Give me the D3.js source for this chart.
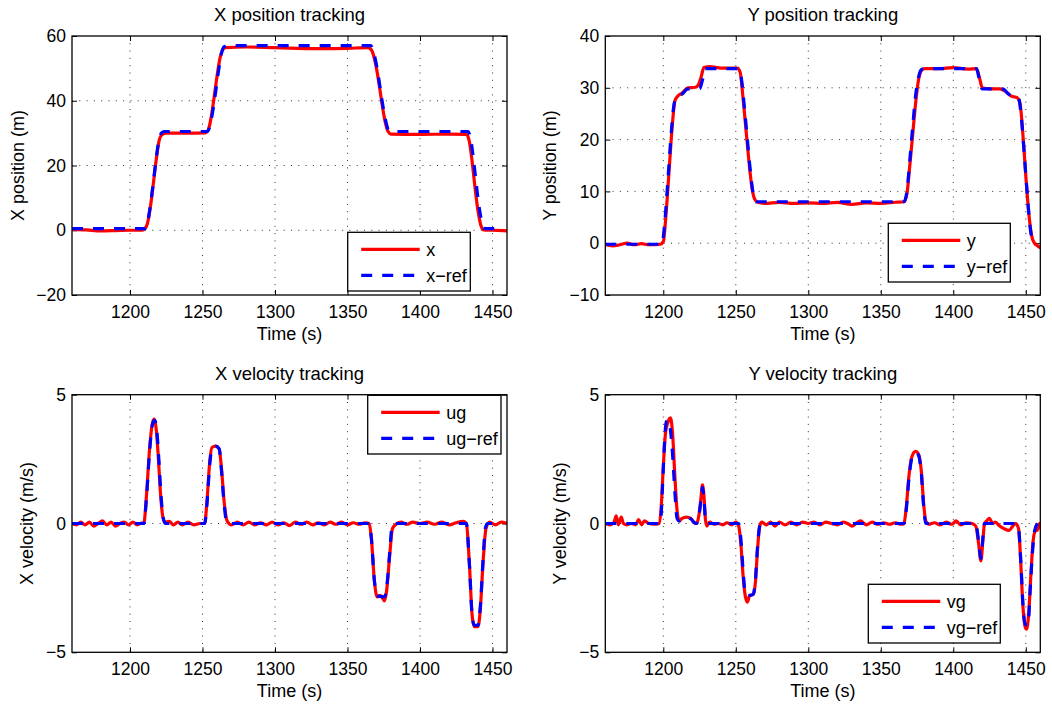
<!DOCTYPE html>
<html>
<head>
<meta charset="utf-8">
<script src="https://cdn.jsdelivr.net/npm/d3@7"></script>
<style>
body { margin: 0; background: #fff; }
text { font-family: "Liberation Sans", Arial, Helvetica, sans-serif; fill: #000; }
</style>
</head>
<body>
<div id="container"></div>
<script>
// ---- data ----
let timeDomain = [1160, 1460];
let timeTicks = [1200, 1250, 1300, 1350, 1400, 1450];

let xPosTicks = [-20, 0, 20, 40, 60];
let yPosTicks = [-10, 0, 10, 20, 30, 40];
let velTicks = [-5, 0, 5];

// X position (m)
let xPos = [[1160,0.3],[1170,0.1],[1180,-0.2],[1190,-0.1],[1200,0],[1208,0],[1210,0.4],[1212,2],[1214,7],[1216,14],[1218,21.5],[1220,27.5],[1222,29.5],[1225,30],[1240,30],[1252,30.1],[1254,31],[1256,35],[1258,41],[1260,47.5],[1262,53],[1264,55.8],[1266,56.4],[1280,56.6],[1300,56.4],[1330,56.1],[1350,56.2],[1364,56.4],[1366,56],[1368,54],[1370,50],[1372,44.5],[1374,38.5],[1376,33.5],[1378,30.5],[1380,29.7],[1400,29.6],[1420,29.7],[1432,29.6],[1434,27.5],[1436,21],[1438,13],[1440,6],[1442,1.5],[1444,0.1],[1450,0],[1460,-0.2]];
let xRef = [[1160,0.5],[1210,0.5],[1212,2.3],[1214,7.5],[1216,14.5],[1218,22],[1220,28],[1222,30.2],[1224,30.5],[1253,30.5],[1255,32],[1257,36.5],[1259,42.5],[1261,49],[1263,54.5],[1265,56.7],[1267,57],[1366,57],[1368,55],[1370,51],[1372,45.5],[1374,39.5],[1376,34.5],[1378,31.2],[1380,30.5],[1433,30.5],[1435,28],[1437,21.5],[1439,13.5],[1441,6.5],[1443,2],[1445,0.5],[1453,0.5]];

// Y position (m)
let yPos = [[1160,-0.3],[1165,-0.5],[1170,-0.3],[1175,0],[1180,-0.3],[1185,-0.1],[1190,-0.3],[1198,-0.2],[1200,0.3],[1202,6],[1204,14],[1206,22],[1208,27.5],[1210,28.4],[1213,29],[1217,30],[1222,30.1],[1224,30.5],[1226,32],[1228,33.9],[1232,34.1],[1240,33.8],[1251,33.8],[1253,33],[1255,28],[1257,22],[1259,16],[1261,11],[1263,8.5],[1265,7.9],[1270,7.7],[1280,7.9],[1290,7.7],[1300,7.8],[1310,7.7],[1320,7.9],[1330,7.5],[1340,7.8],[1350,7.7],[1360,7.9],[1366,8],[1368,9.5],[1370,15],[1372,21],[1374,27],[1376,31.5],[1378,33.3],[1380,33.7],[1390,33.7],[1400,33.9],[1410,33.6],[1416,33.7],[1418,32],[1420,30],[1425,29.8],[1432,29.8],[1436,29.3],[1440,28.4],[1444,28.1],[1446,27],[1448,21],[1450,13],[1452,6],[1454,1.5],[1456,0],[1458,-0.5],[1460,-0.9]];
let yRef = [[1160,-0.2],[1199,-0.2],[1201,4],[1203,11.5],[1205,19.5],[1207,26],[1209,28.2],[1213,28.8],[1217,29.8],[1225,29.8],[1227,31.5],[1229,33.7],[1252,33.7],[1254,31.5],[1256,26],[1258,20],[1260,14],[1262,9.5],[1264,8],[1366,8],[1368,10],[1370,16],[1372,22.5],[1374,28.5],[1376,32],[1378,33.5],[1380,33.7],[1416,33.7],[1418,31.5],[1420,29.8],[1434,29.8],[1438,28.8],[1441,28.2],[1445,28],[1447,24],[1449,17],[1451,9.5],[1453,3],[1455,0.5],[1457,0.2]];

// X velocity (m/s)
let ug = [[1160,0],[1163,-0.05],[1166,0.05],[1169,-0.05],[1172,0.05],[1175,-0.1],[1178,0],[1181,0.1],[1184,-0.05],[1187,0.05],[1190,-0.1],[1193,0],[1196,0.05],[1199,-0.05],[1202,0.05],[1205,-0.05],[1208,0.02],[1209.5,0],[1211.5,1.2],[1213.5,2.9],[1215.5,3.9],[1216.8,4.05],[1218,3.7],[1219.5,2.6],[1221,1.2],[1222.5,0.3],[1224,0.05],[1227,0.08],[1230,-0.05],[1233,0.05],[1236,-0.05],[1240,0.05],[1244,-0.05],[1248,0],[1251.5,0],[1253,0.8],[1255,2.4],[1256.5,2.95],[1259,3.0],[1261.5,2.9],[1263,2.2],[1265,0.8],[1267,0.1],[1270,-0.05],[1274,0.05],[1278,-0.05],[1282,0.05],[1286,-0.05],[1290,0.03],[1294,-0.05],[1298,0.05],[1302,-0.05],[1306,0.03],[1310,-0.08],[1314,0.05],[1318,-0.03],[1322,0.05],[1326,-0.05],[1330,0.03],[1334,-0.05],[1338,0.05],[1342,-0.03],[1346,0.05],[1350,-0.05],[1354,0.03],[1358,-0.03],[1362,0.03],[1365,0],[1366.5,-0.6],[1368.5,-2.2],[1370.5,-2.85],[1373,-2.8],[1375.5,-3.0],[1377,-2.6],[1379,-1.3],[1381,-0.2],[1383,-0.05],[1387,0.05],[1391,-0.03],[1395,0.05],[1400,0],[1405,0.05],[1410,-0.03],[1415,0.05],[1420,-0.05],[1425,0.03],[1430,0.08],[1432,0],[1434,-1.5],[1436,-3.6],[1437.5,-4.0],[1440,-4.0],[1441.5,-3.4],[1443.5,-1.5],[1445.5,-0.2],[1448,0.05],[1452,-0.05],[1456,0.05],[1460,0]];
let ugRef = [[1160,0],[1209.5,0],[1211.5,1.1],[1213.5,2.8],[1215.5,3.85],[1217,4.0],[1218.5,3.6],[1220,2.4],[1221.5,1.0],[1223,0.2],[1224.5,0],[1251.5,0],[1253,0.7],[1255,2.3],[1256.5,2.9],[1259,3.0],[1261.5,2.9],[1263,2.1],[1265,0.7],[1266.5,0.1],[1268,0],[1365,0],[1366.5,-0.6],[1368.5,-2.2],[1370.5,-2.8],[1375.5,-2.85],[1377,-2.5],[1379,-1.2],[1380.5,-0.2],[1382,0],[1432,0],[1434,-1.5],[1436,-3.6],[1437.5,-3.95],[1440,-3.95],[1441.5,-3.3],[1443.5,-1.4],[1445,-0.2],[1446.5,0],[1454,0]];

// Y velocity (m/s)
let vg = [[1160,0],[1163,-0.05],[1166,0.05],[1167.5,0.3],[1169,-0.05],[1171,0.25],[1172.5,0],[1175,-0.05],[1178,0],[1181,-0.05],[1183,0.15],[1185,-0.05],[1187,0.1],[1190,0],[1194,-0.03],[1197,0],[1198.5,0.6],[1200,2.2],[1201.5,3.5],[1203,3.9],[1205,4.1],[1206.5,3.4],[1208,1.8],[1209.5,0.5],[1211,0.1],[1213,0.2],[1216,0.25],[1219,0.2],[1221,0.05],[1223,0],[1224.5,0.3],[1226,1.0],[1227,1.5],[1228,1.1],[1229,0.2],[1230,-0.1],[1232,0.05],[1235,-0.03],[1238,0],[1241,-0.05],[1244,0.03],[1247,-0.05],[1250,0.05],[1252,-0.1],[1253.5,-0.8],[1255,-2.0],[1256.5,-2.8],[1258,-3.05],[1259.5,-2.8],[1262,-2.75],[1263.5,-2.3],[1265,-1.0],[1266.5,-0.1],[1268,0.05],[1271,-0.05],[1274,0.05],[1277,-0.1],[1280,0.05],[1284,-0.05],[1288,0.05],[1292,-0.05],[1296,0.05],[1300,0],[1304,0.05],[1308,-0.05],[1312,0.05],[1316,0],[1320,-0.05],[1324,0.05],[1328,-0.03],[1330,-0.1],[1334,0.05],[1336,0.1],[1340,-0.05],[1344,0.05],[1348,-0.03],[1352,0.03],[1356,-0.03],[1360,0.03],[1364,-0.03],[1366,0],[1367.5,0.6],[1369.5,1.9],[1371.5,2.6],[1374,2.8],[1376,2.7],[1378,2.0],[1379.5,0.8],[1381,0.1],[1383,-0.03],[1387,0.03],[1391,-0.05],[1395,0.05],[1399,-0.03],[1402,0.1],[1405,-0.05],[1409,0.03],[1413,0],[1415.5,-0.1],[1417.5,-0.8],[1419,-1.45],[1420.5,-0.6],[1421.5,0],[1423,0.1],[1425,0.2],[1427,0],[1429,0.05],[1432,-0.1],[1435,-0.2],[1438.5,-0.27],[1441,-0.1],[1443,0],[1445,-0.2],[1446.5,-1.5],[1448,-3.2],[1449.5,-4.0],[1450.5,-4.1],[1452,-3.5],[1453.5,-2.0],[1455,-0.7],[1456.5,-0.3],[1458,-0.25],[1460,0.05]];
let vgRef = [[1160,0],[1198,0],[1199.5,1.5],[1201,3.3],[1202,3.95],[1204,4.0],[1205,3.6],[1206.5,2.6],[1208,1.2],[1209.5,0.2],[1211,0.1],[1213,0.2],[1216,0.22],[1219,0.18],[1221,0.05],[1223,0],[1224.5,0.3],[1226,0.9],[1227,1.4],[1228,1.0],[1229,0.2],[1230,0],[1252,0],[1253.5,-0.6],[1255,-1.8],[1256.5,-2.7],[1258,-2.8],[1262,-2.75],[1263.5,-2.2],[1265,-0.9],[1266.5,-0.1],[1268,0],[1366,0],[1367.5,0.5],[1369.5,1.8],[1371.5,2.55],[1374,2.75],[1376,2.65],[1378,1.9],[1379.5,0.7],[1381,0],[1415.5,0],[1417.5,-0.7],[1419,-1.35],[1420.5,-0.5],[1421.5,0],[1443,0],[1445,-0.2],[1446.5,-1.4],[1448,-3.1],[1449.5,-3.9],[1451.5,-3.95],[1453,-2.6],[1454.5,-1.2],[1456,-0.3],[1458,0]];

// ---- drawing ----
let w = 1052;
let h = 705;

let viz = d3.select("#container")
  .append("svg")
    .attr("width", w)
    .attr("height", h)
    .style("background-color", "#ffffff");

function drawPanel(p) {
  let x = d3.scaleLinear().domain(timeDomain).range([p.left, p.right]);
  let y = d3.scaleLinear().domain(p.yDomain).range([p.bottom, p.top]);
  let g = viz.append("g");

  // grid (dotted)
  timeTicks.forEach(function (t) {
    g.append("line")
      .attr("x1", x(t)).attr("x2", x(t))
      .attr("y1", p.top).attr("y2", p.bottom)
      .attr("stroke", "#333").attr("stroke-width", 1)
      .attr("stroke-dasharray", "1,6.3");
  });
  p.yTicks.forEach(function (v) {
    if (v == p.yDomain[0] || v == p.yDomain[1]) return;
    g.append("line")
      .attr("x1", p.left).attr("x2", p.right)
      .attr("y1", y(v)).attr("y2", y(v))
      .attr("stroke", "#333").attr("stroke-width", 1)
      .attr("stroke-dasharray", "1,6.3");
  });

  // axes, ticks pointing inwards
  let fmt = d3.format("d");
  g.append("g")
    .attr("transform", "translate(0," + p.bottom + ")")
    .call(d3.axisBottom(x).tickValues(timeTicks).tickFormat(fmt).tickSizeInner(-5).tickSizeOuter(0).tickPadding(10.5))
    .call(ax => ax.select(".domain").remove());
  g.append("g")
    .attr("transform", "translate(0," + p.top + ")")
    .call(d3.axisTop(x).tickValues(timeTicks).tickFormat("").tickSizeInner(-5).tickSizeOuter(0))
    .call(ax => ax.select(".domain").remove());
  g.append("g")
    .attr("transform", "translate(" + p.left + ",0)")
    .call(d3.axisLeft(y).tickValues(p.yTicks).tickFormat(fmt).tickSizeInner(-5).tickSizeOuter(0).tickPadding(6))
    .call(ax => ax.select(".domain").remove());
  g.append("g")
    .attr("transform", "translate(" + p.right + ",0)")
    .call(d3.axisRight(y).tickValues(p.yTicks).tickFormat("").tickSizeInner(-5).tickSizeOuter(0))
    .call(ax => ax.select(".domain").remove());
  g.selectAll(".tick line").attr("stroke", "#000").attr("stroke-width", 1);
  g.selectAll(".tick text").attr("font-size", "17.5px")
    .attr("font-family", "Liberation Sans, Arial, sans-serif");

  // lines
  let clipId = "clip" + p.id;
  viz.append("clipPath").attr("id", clipId)
    .append("rect")
      .attr("x", p.left).attr("y", p.top)
      .attr("width", p.right - p.left).attr("height", p.bottom - p.top);

  let line = d3.line()
    .x(d => x(d[0]))
    .y(d => y(d[1]))
    .curve(d3.curveMonotoneX);

  g.append("path")
    .attr("d", line(p.actual))
    .attr("clip-path", "url(#" + clipId + ")")
    .attr("fill", "none")
    .attr("stroke", "#ff0000")
    .attr("stroke-width", 3.2)
    .attr("stroke-linejoin", "round");
  g.append("path")
    .attr("d", line(p.ref))
    .attr("clip-path", "url(#" + clipId + ")")
    .attr("fill", "none")
    .attr("stroke", "#0000ff")
    .attr("stroke-width", 3.2)
    .attr("stroke-dasharray", "11,10");

  // box
  g.append("rect")
    .attr("x", p.left).attr("y", p.top)
    .attr("width", p.right - p.left).attr("height", p.bottom - p.top)
    .attr("fill", "none").attr("stroke", "#000").attr("stroke-width", 1.3);

  // title and labels
  g.append("text")
    .attr("x", (p.left + p.right) / 2)
    .attr("y", p.top - 15)
    .attr("text-anchor", "middle")
    .attr("style", "font-size:18.5px;")
    .text(p.title);
  g.append("text")
    .attr("x", (p.left + p.right) / 2)
    .attr("y", p.bottom + 45)
    .attr("text-anchor", "middle")
    .attr("style", "font-size:18px;")
    .text("Time (s)");
  g.append("text")
    .attr("transform", "translate(" + (p.left - p.ylabOff) + "," + ((p.top + p.bottom) / 2) + ") rotate(-90)")
    .attr("text-anchor", "middle")
    .attr("style", "font-size:18px;")
    .text(p.ylabel);

  // legend
  let L = p.legend;
  g.append("rect")
    .attr("x", L.x).attr("y", L.y)
    .attr("width", L.w).attr("height", 58.7)
    .attr("fill", "#fff").attr("stroke", "#000").attr("stroke-width", 1.3);
  g.append("line")
    .attr("x1", L.x + 13.5).attr("x2", L.x + 72)
    .attr("y1", L.y + 17).attr("y2", L.y + 17)
    .attr("stroke", "#ff0000").attr("stroke-width", 3.2);
  g.append("line")
    .attr("x1", L.x + 13.5).attr("x2", L.x + 72)
    .attr("y1", L.y + 43).attr("y2", L.y + 43)
    .attr("stroke", "#0000ff").attr("stroke-width", 3.2)
    .attr("stroke-dasharray", "11,10");
  g.append("text")
    .attr("x", L.x + 78.5).attr("y", L.y + 17)
    .attr("dy", "0.35em")
    .attr("style", "font-size:18px;")
    .text(p.names[0]);
  g.append("text")
    .attr("x", L.x + 78.5).attr("y", L.y + 43)
    .attr("dy", "0.35em")
    .attr("style", "font-size:18px;")
    .text(p.names[1]);
}

drawPanel({
  id: 1, left: 72, right: 507, top: 36, bottom: 295,
  yDomain: [-20, 60], yTicks: xPosTicks,
  actual: xPos, ref: xRef, names: ["x", "x\u2212ref"],
  title: "X position tracking", ylabel: "X position (m)", ylabOff: 48.5,
  legend: { x: 347.7, y: 232.3, w: 122.6 }
});

drawPanel({
  id: 2, left: 605.3, right: 1040.3, top: 36, bottom: 295,
  yDomain: [-10, 40], yTicks: yPosTicks,
  actual: yPos, ref: yRef, names: ["y", "y\u2212ref"],
  title: "Y position tracking", ylabel: "Y position (m)", ylabOff: 49.3,
  legend: { x: 888.3, y: 223.3, w: 122 }
});

drawPanel({
  id: 3, left: 72, right: 507, top: 394.7, bottom: 652.3,
  yDomain: [-5, 5], yTicks: velTicks,
  actual: ug, ref: ugRef, names: ["ug", "ug\u2212ref"],
  title: "X velocity tracking", ylabel: "X velocity (m/s)", ylabOff: 39,
  legend: { x: 367.7, y: 395.3, w: 133.3 }
});

drawPanel({
  id: 4, left: 605.3, right: 1040.3, top: 394.7, bottom: 652.3,
  yDomain: [-5, 5], yTicks: velTicks,
  actual: vg, ref: vgRef, names: ["vg", "vg\u2212ref"],
  title: "Y velocity tracking", ylabel: "Y velocity (m/s)", ylabOff: 39.3,
  legend: { x: 868.3, y: 584.3, w: 132 }
});
</script>
</body>
</html>
